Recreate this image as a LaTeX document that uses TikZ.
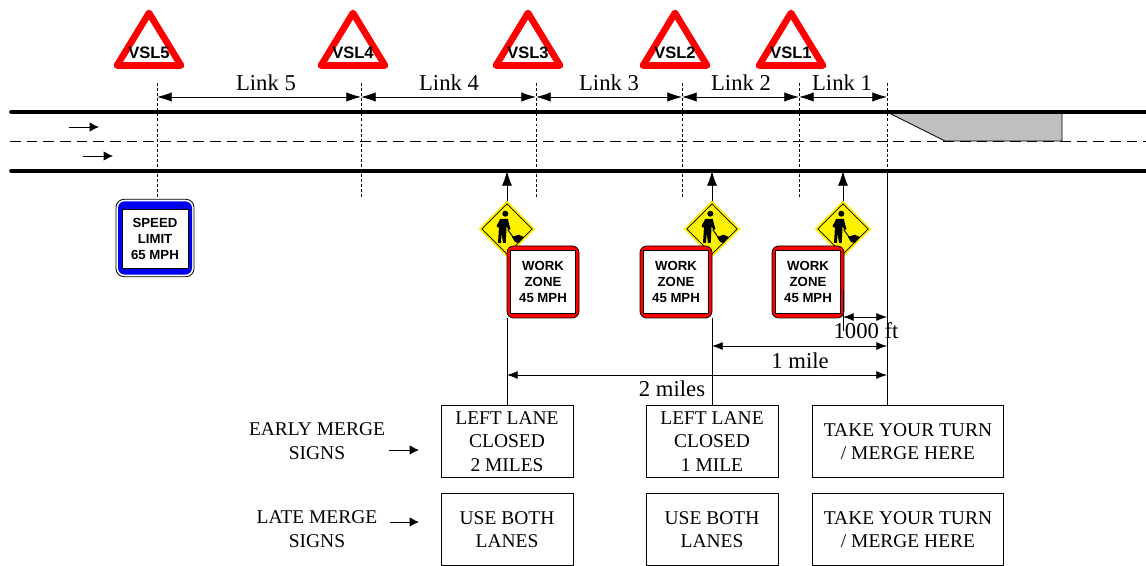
\documentclass[tikz,border=0pt]{standalone}
\usepackage{fontspec}
\setmainfont{Liberation Serif}
\newfontfamily\signfont{Liberation Sans}
\usepackage{xcolor}
\usetikzlibrary{shapes.geometric,arrows.meta,positioning}
\definecolor{taperGray}{RGB}{191,191,191}
\definecolor{signBlue}{RGB}{0,0,240}

\begin{document}
\begin{tikzpicture}[
  x=0.75pt,y=-0.75pt,
  road/.style={line width=2.7pt,line cap=round},
  lanemark/.style={line width=0.6pt,dash pattern=on 8pt off 4.5pt},
  guide/.style={line width=0.5pt,dash pattern=on 2.2pt off 1.6pt},
  thinline/.style={line width=0.6pt},
  span/.style={line width=0.6pt,{Latex[length=11pt,width=7pt]}-{Latex[length=11pt,width=7pt]}},
  smallspan/.style={line width=0.6pt,{Latex[length=8pt,width=6pt]}-{Latex[length=8pt,width=6pt]}},
  flow/.style={line width=0.6pt,-{Latex[length=7pt,width=7pt]}},
  uparrow/.style={line width=0.6pt,-{Latex[length=11pt,width=7.5pt]}},
  textlab/.style={font=\fontsize{17}{18}\selectfont,align=center,inner sep=0pt},
  signlab/.style={font=\fontsize{14.6}{17.5}\selectfont,align=center,inner sep=0pt},
  msgbox/.style={draw,line width=0.5pt,align=center,inner sep=0pt,font=\fontsize{14.6}{17.5}\selectfont,minimum height=54pt},
  earlybox/.style={msgbox,minimum width=99pt},
  widebox/.style={msgbox,minimum width=143pt},
  signtext/.style={font=\signfont\bfseries\fontsize{9.9}{12}\selectfont,align=center,inner sep=0pt},
  wzsign/.style={draw,line width=0.6pt,fill=red,rounded corners=5pt,minimum width=54pt,minimum height=54pt,inner sep=0pt},
  wzface/.style={fill=white,draw=black,line width=0.4pt,minimum width=48.5pt,minimum height=47pt,signtext},
  vsl/.pic={
    \draw[red,line width=5pt,line join=round] (-32,26.5) -- (0,-26) -- (32,26.5) -- cycle;
    \node[font=\signfont\bfseries\fontsize{12.4}{12}\selectfont,inner sep=0pt] (-text) at (0,14) {\tikzpictext};
  },
  worker/.pic={
    \node[diamond,aspect=1,fill=yellow,draw=yellow,line width=0.5pt,minimum size=42pt,inner sep=0pt] (-sign) at (0,0) {};
    \node[diamond,aspect=1,draw=black,line width=0.5pt,minimum size=38pt,inner sep=0pt] at (0,0) {};
    \fill (-1.7,-15.3) circle (3);
    \fill (-6.7,-10) -- (0.7,-10) -- (3.4,0) -- (1.6,1) -- (-0.7,-3) -- (-0.7,3) -- (-1.3,14) -- (-4,14) -- (-5.4,4) -- (-6,14) -- (-9,14) -- (-8,-2) -- (-9.5,-1.5) -- (-10.5,-3) -- cycle;
    \draw[line width=0.7pt] (0.7,0.7) -- (9,12);
    \fill (5,8) -- (11.7,5.7) -- (16.7,8) -- (11.7,14) -- (8,13) -- cycle;
  }
]
\useasboundingbox (0,0) rectangle (1146,566);

% road
\coordinate (topL) at (11,112);
\coordinate (topR) at (1146,112);
\coordinate (laneL) at (10,141);
\coordinate (laneR) at (1146,141);
\coordinate (botL) at (11,171);
\coordinate (botR) at (1146,171);
\fill[taperGray] (889,113) -- (945,141) -- (1062,141) -- (1062,113) -- cycle;
\draw[thinline] (889,113) -- (945,141) -- (1062,141) -- (1062,113);
\draw[lanemark] (laneL) -- (laneR);
\draw[road] (topL) -- (topR);
\draw[road] (botL) -- (botR);
\coordinate (flowA) at (69,127);
\coordinate (flowB) at (83,156);
\draw[flow] (flowA) -- ++(30,0);
\draw[flow] (flowB) -- ++(30,0);

% link ends
\coordinate (end5) at (157,97);
\coordinate (end4) at (361,97);
\coordinate (end3) at (536,97);
\coordinate (end2) at (682,97);
\coordinate (end1) at (799,97);
\coordinate (end0) at (887,97);
\draw[guide] (157,83) -- (157,198);
\draw[guide] (361,83) -- (361,198);
\draw[guide] (536,83) -- (536,198);
\draw[guide] (682,83) -- (682,198);
\draw[guide] (799,83) -- (799,198);
\draw[guide] (887,83) -- (887,171);
\draw[span] (end5) -- (end4);
\draw[span] (end4) -- (end3);
\draw[span] (end3) -- (end2);
\draw[span] (end2) -- (end1);
\draw[span] (end1) -- (end0);
\node[textlab] (link5) at (266,83) {Link 5};
\node[textlab] (link4) at (449,83) {Link 4};
\node[textlab] (link3) at (609,83) {Link 3};
\node[textlab] (link2) at (741,83) {Link 2};
\node[textlab] (link1) at (842,83) {Link 1};

% vsl signs
\pic[pic text=VSL5] (vsl5) at (149,39) {vsl};
\pic[pic text=VSL4] (vsl4) at (353,39) {vsl};
\pic[pic text=VSL3] (vsl3) at (528,39) {vsl};
\pic[pic text=VSL2] (vsl2) at (675,39) {vsl};
\pic[pic text=VSL1] (vsl1) at (791,39) {vsl};

% speed limit sign
\node[draw,line width=0.6pt,fill=white,rounded corners=6pt,minimum width=58.5pt,minimum height=58pt] (limit) at (155,238) {};
\node[fill=signBlue,rounded corners=5pt,minimum width=55.5pt,minimum height=55pt] (limitband) at (limit) {};
\node[signtext,fill=white,draw=black,line width=0.6pt,minimum width=49.5pt,minimum height=44.5pt] (limitface) at (155,239) {SPEED\\LIMIT\\65 MPH};

% work zones
\pic (w1) at (507,229) {worker};
\pic (w2) at (712,229) {worker};
\pic (w3) at (843,229) {worker};
\node[wzsign] (wz1) at (543,282) {};
\node[wzface] at (wz1) {WORK\\ZONE\\45 MPH};
\node[wzsign] (wz2) at (676,282) {};
\node[wzface] at (wz2) {WORK\\ZONE\\45 MPH};
\node[wzsign] (wz3) at (808,282) {};
\node[wzface] at (wz3) {WORK\\ZONE\\45 MPH};
\draw[uparrow] (w1-sign.north) -- (w1-sign.north |- botL);
\draw[uparrow] (w2-sign.north) -- (w2-sign.north |- botL);
\draw[uparrow] (w3-sign.north) -- (w3-sign.north |- botL);

% message boxes
\node[earlybox] (early2) at (507,441.5) {LEFT LANE\\CLOSED\\2 MILES};
\node[earlybox] (early1) at (712,441.5) {LEFT LANE\\CLOSED\\1 MILE};
\node[widebox] (early0) at (908,441.5) {TAKE YOUR TURN\\/ MERGE HERE};
\node[earlybox,below=11.4pt of early2] (late2) {USE BOTH\\LANES};
\node[earlybox,below=11.4pt of early1] (late1) {USE BOTH\\LANES};
\node[widebox,below=11.4pt of early0] (late0) {TAKE YOUR TURN\\/ MERGE HERE};
\node[signlab] (earlylab) at (317,441) {EARLY MERGE\\SIGNS};
\node[signlab] (latelab) at (317,529) {LATE MERGE\\SIGNS};
\coordinate (earlyarr) at (389,450);
\coordinate (latearr) at (390,522);
\draw[flow] (earlyarr) -- ++(30,0);
\draw[flow] (latearr) -- ++(29,0);

% distances
\coordinate (zero) at (887,171);
\draw[thinline] (zero) -- (zero |- early0.north);
\draw[thinline] (early2.north) -- (early2.north |- wz1.south);
\draw[thinline] (early1.north) -- (early1.north |- wz2.south);
\draw[thinline] (843,290) -- (843,331);
\coordinate (d1000) at (843,317);
\coordinate (d1mile) at (712,346);
\coordinate (d2mile) at (507,375);
\draw[smallspan] (d1000) -- (d1000 -| zero);
\draw[smallspan] (d1mile) -- (d1mile -| zero);
\draw[smallspan] (d2mile) -- (d2mile -| zero);
\node[textlab] (dist1000) at (866,331) {1000 ft};
\node[textlab] (dist1mile) at (800,361) {1 mile};
\node[textlab] (dist2mile) at (672,389) {2 miles};
\end{tikzpicture}
\end{document}
